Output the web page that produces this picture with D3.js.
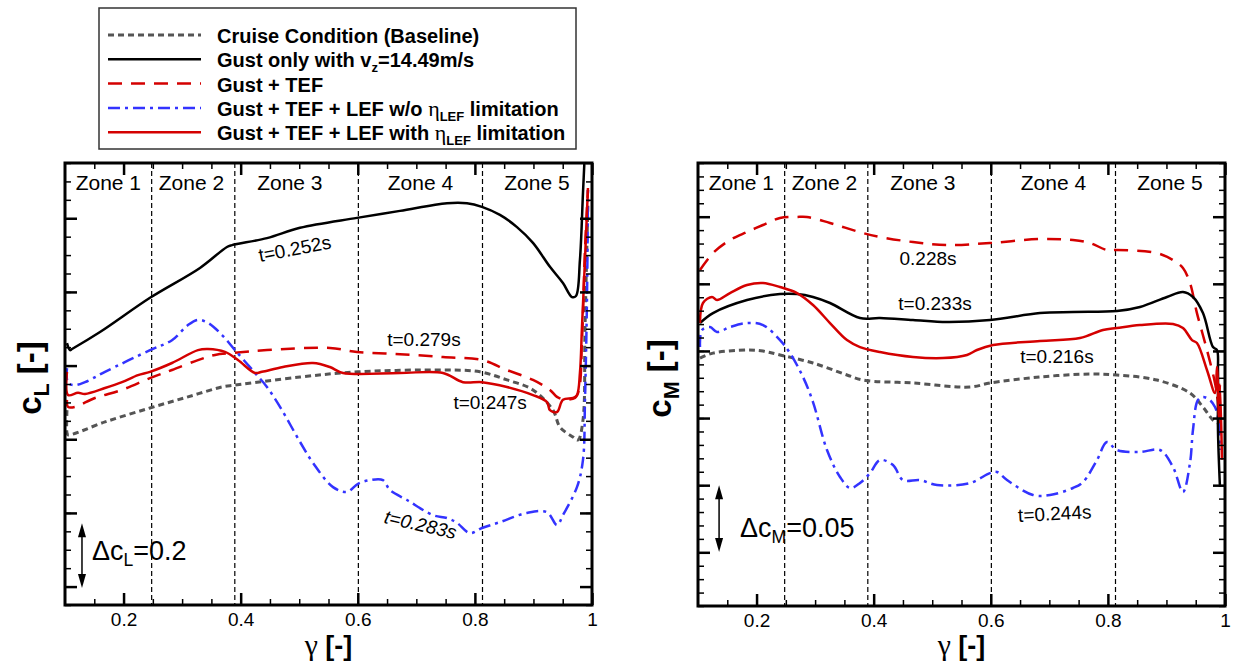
<!DOCTYPE html>
<html>
<head>
<meta charset="utf-8">
<script src="https://cdn.jsdelivr.net/npm/d3@7"></script>
<style>
  body { margin: 0; background: #fff; }
  svg { font-family: "Liberation Sans", Arial, Helvetica, sans-serif; }
</style>
</head>
<body>
<div id="chart"></div>
<script>
// zones along the span
const zoneEdges = [0.248, 0.39, 0.601, 0.813]
const zoneNames = ["Zone 1", "Zone 2", "Zone 3", "Zone 4", "Zone 5"]
const zoneLabelX = [0.174, 0.316, 0.484, 0.707, 0.906]
const xTicks = [0.2, 0.4, 0.6, 0.8, 1]

// lift coefficient, [gamma, cL]
const clCruise = [[0.1034,0.679],[0.1034,0.617],[0.1051,0.612],[0.1683,0.647],[0.2452,0.685],[0.3100,0.715],[0.3681,0.742],[0.3903,0.747],[0.5013,0.769],[0.6004,0.783],[0.7455,0.788],[0.8087,0.783],[0.8548,0.761],[0.8992,0.734],[0.9334,0.679],[0.9453,0.633],[0.9675,0.606],[0.9761,0.598],[0.9846,0.652],[0.9880,0.897],[0.9931,1.250]]
const clGust = [[0.1034,0.861],[0.1085,0.842],[0.1120,0.845],[0.1598,0.891],[0.2452,0.984],[0.3305,1.065],[0.3766,1.122],[0.3852,1.127],[0.4449,1.146],[0.5013,1.174],[0.5986,1.201],[0.6721,1.220],[0.7523,1.241],[0.7865,1.241],[0.8121,1.231],[0.8428,1.209],[0.8719,1.176],[0.8992,1.133],[0.9282,1.068],[0.9504,1.024],[0.9658,0.986],[0.9726,0.989],[0.9794,1.087],[0.9846,1.269],[0.9880,1.385]]
const clTef = [[0.1034,0.707],[0.1051,0.688],[0.1171,0.688],[0.1512,0.712],[0.1973,0.734],[0.2452,0.766],[0.2827,0.788],[0.3271,0.815],[0.3562,0.829],[0.3852,0.834],[0.4449,0.842],[0.5525,0.848],[0.5986,0.837],[0.6721,0.831],[0.7455,0.823],[0.8121,0.815],[0.8548,0.788],[0.8992,0.761],[0.9282,0.734],[0.9402,0.715],[0.9504,0.709],[0.9709,0.712],[0.9778,0.734],[0.9829,0.869],[0.9880,1.114],[0.9931,1.277]]
const clNoLim = [[0.1034,0.793],[0.1051,0.753],[0.1171,0.747],[0.1342,0.755],[0.1683,0.783],[0.2452,0.842],[0.2827,0.869],[0.3100,0.910],[0.3271,0.924],[0.3442,0.916],[0.3681,0.883],[0.3903,0.842],[0.4245,0.780],[0.4449,0.742],[0.4672,0.688],[0.5013,0.593],[0.5235,0.536],[0.5577,0.470],[0.5816,0.457],[0.6004,0.479],[0.6209,0.489],[0.6430,0.489],[0.6550,0.462],[0.6840,0.435],[0.7284,0.394],[0.7523,0.386],[0.7694,0.373],[0.7916,0.345],[0.8121,0.359],[0.8428,0.375],[0.8889,0.400],[0.9231,0.402],[0.9402,0.367],[0.9504,0.394],[0.9743,0.470],[0.9846,0.544],[0.9880,0.707],[0.9914,0.978],[0.9931,1.277]]
const clLim = [[0.1034,0.783],[0.1051,0.720],[0.1222,0.726],[0.1342,0.723],[0.1683,0.739],[0.1973,0.755],[0.2247,0.774],[0.2452,0.783],[0.2827,0.807],[0.3271,0.842],[0.3442,0.845],[0.3732,0.837],[0.3954,0.815],[0.4245,0.780],[0.4364,0.783],[0.4723,0.796],[0.5235,0.807],[0.5525,0.796],[0.5747,0.780],[0.6721,0.780],[0.7455,0.780],[0.7796,0.755],[0.8121,0.755],[0.8548,0.742],[0.8992,0.720],[0.9231,0.701],[0.9282,0.679],[0.9402,0.674],[0.9504,0.707],[0.9675,0.712],[0.9743,0.720],[0.9794,0.780],[0.9829,0.905],[0.9880,1.087],[0.9931,1.282]]

// moment coefficient, [gamma, cM]
const cmCruise = [[0.1034,-0.1053],[0.1256,-0.1016],[0.1837,-0.0993],[0.2110,-0.1001],[0.2400,-0.1030],[0.2964,-0.1090],[0.3544,-0.1179],[0.3818,-0.1217],[0.4672,-0.1239],[0.5645,-0.1269],[0.5987,-0.1239],[0.6840,-0.1194],[0.7694,-0.1172],[0.8155,-0.1179],[0.8838,-0.1217],[0.9402,-0.1314],[0.9624,-0.1418],[0.9795,-0.1515],[0.9880,-0.1537]]
const cmGust = [[0.1034,-0.0792],[0.1256,-0.0718],[0.1837,-0.0621],[0.2400,-0.0576],[0.2691,-0.0576],[0.2964,-0.0598],[0.3254,-0.0643],[0.3767,-0.0755],[0.4108,-0.0755],[0.4672,-0.0770],[0.5252,-0.0785],[0.5987,-0.0770],[0.6840,-0.0718],[0.7404,-0.0710],[0.8155,-0.0703],[0.8548,-0.0673],[0.9009,-0.0598],[0.9282,-0.0561],[0.9453,-0.0598],[0.9624,-0.0718],[0.9795,-0.0971],[0.9863,-0.0993],[0.9880,-0.1142],[0.9880,-0.1589],[0.9914,-0.2014]]
const cmTef = [[0.1034,-0.0397],[0.1256,-0.0271],[0.1546,-0.0174],[0.1837,-0.0114],[0.2110,-0.0062],[0.2400,-0.0010],[0.2691,-0.0002],[0.2861,-0.0002],[0.3254,-0.0047],[0.3818,-0.0122],[0.4108,-0.0151],[0.4672,-0.0189],[0.5252,-0.0211],[0.5987,-0.0196],[0.6840,-0.0166],[0.7404,-0.0174],[0.7694,-0.0196],[0.7984,-0.0248],[0.8155,-0.0248],[0.8838,-0.0271],[0.9112,-0.0323],[0.9282,-0.0382],[0.9402,-0.0494],[0.9521,-0.0718],[0.9692,-0.0993],[0.9829,-0.1239],[0.9880,-0.1388],[0.9914,-0.1641]]
const cmNoLim = [[0.1034,-0.0971],[0.1068,-0.0844],[0.1205,-0.0822],[0.1324,-0.0859],[0.1546,-0.0822],[0.1837,-0.0792],[0.2110,-0.0807],[0.2400,-0.0919],[0.2571,-0.1016],[0.2793,-0.1194],[0.2964,-0.1381],[0.3203,-0.1738],[0.3425,-0.1939],[0.3596,-0.2021],[0.3767,-0.1984],[0.3937,-0.1910],[0.4108,-0.1813],[0.4330,-0.1850],[0.4501,-0.1962],[0.4791,-0.1962],[0.5081,-0.1999],[0.5645,-0.1984],[0.5987,-0.1910],[0.6106,-0.1902],[0.6277,-0.1962],[0.6721,-0.2073],[0.7011,-0.2073],[0.7404,-0.2021],[0.7575,-0.1977],[0.7814,-0.1813],[0.7984,-0.1679],[0.8155,-0.1738],[0.8548,-0.1753],[0.8889,-0.1738],[0.9112,-0.1865],[0.9282,-0.2051],[0.9402,-0.1835],[0.9453,-0.1589],[0.9538,-0.1366],[0.9624,-0.1343],[0.9743,-0.1366],[0.9829,-0.1418],[0.9880,-0.1492],[0.9914,-0.1738]]
const cmLim = [[0.1034,-0.0792],[0.1085,-0.0643],[0.1239,-0.0598],[0.1324,-0.0621],[0.1546,-0.0569],[0.1837,-0.0509],[0.2110,-0.0494],[0.2400,-0.0524],[0.2691,-0.0569],[0.2964,-0.0658],[0.3254,-0.0792],[0.3544,-0.0919],[0.3767,-0.0971],[0.4108,-0.1008],[0.4672,-0.1045],[0.5184,-0.1053],[0.5594,-0.1030],[0.5764,-0.0993],[0.6038,-0.0956],[0.6840,-0.0926],[0.7523,-0.0904],[0.7916,-0.0844],[0.8155,-0.0829],[0.8548,-0.0807],[0.9112,-0.0799],[0.9282,-0.0829],[0.9436,-0.0919],[0.9521,-0.0941],[0.9692,-0.1142],[0.9829,-0.1314],[0.9863,-0.1120],[0.9897,-0.1500],[0.9914,-0.1250],[0.9948,-0.1810]]

// time labels: text, gamma, value, angle, italic
const clNotes = [["t=0.252s",0.4945,1.100,-11,false],["t=0.279s",0.713,0.853,0,false],["t=0.247s",0.826,0.682,0,false],["t=0.283s",0.7045,0.351,13,true]]
const cmNotes = [["0.228s",0.4928,-0.036,0,false],["t=0.233s",0.5047,-0.0695,0,false],["t=0.216s",0.713,-0.109,0,false],["t=0.244s",0.7097,-0.226,-3,false]]

const styles = {
  cruise: { color: "#555", dash: "6,4", width: 3 },
  gust:   { color: "#000", dash: null, width: 2.5 },
  tef:    { color: "#d40000", dash: "14,9", width: 2.5 },
  nolim:  { color: "#3333ff", dash: "12,5,3,5", width: 2.5 },
  lim:    { color: "#d40000", dash: null, width: 2.5 }
}

// part kinds: 0 plain, 1 subscript, 2 greek symbol
const legendItems = [
  ["cruise", [["Cruise Condition (Baseline)", 0]]],
  ["gust",   [["Gust only with v", 0], ["z", 1], ["=14.49m/s", 0]]],
  ["tef",    [["Gust + TEF", 0]]],
  ["nolim",  [["Gust + TEF + LEF w/o ", 0], ["\u03b7", 2], ["LEF", 1], [" limitation", 0]]],
  ["lim",    [["Gust + TEF + LEF with ", 0], ["\u03b7", 2], ["LEF", 1], [" limitation", 0]]]
]

const width = 1238, height = 667

const svg = d3.select("#chart").append("svg")
  .attr("width", width).attr("height", height)

// text with subscripts and symbol-font greek
function richText(sel, parts, shift) {
  parts.forEach((p, i) => {
    const t = sel.append("tspan").text(p[0])
    if (p[1] === 1) t.attr("font-size", "65%").attr("dy", shift)
    else if (i > 0 && parts[i-1][1] === 1) t.attr("dy", -shift)
    if (p[1] === 2) t.attr("font-family", "'Liberation Serif', 'DejaVu Serif', serif")
      .attr("font-weight", "normal").attr("font-size", "110%")
  })
}

function drawPanel(p) {
  const x = d3.scaleLinear().domain([0.1, 1]).range([p.left, p.right])
  const y = d3.scaleLinear().domain(p.yDomain).range([p.bottom, p.top])
  const g = svg.append("g")

  svg.append("clipPath").attr("id", "clip-" + p.id)
    .append("rect")
    .attr("x", p.left).attr("y", p.top)
    .attr("width", p.right - p.left).attr("height", p.bottom - p.top)

  // zone borders
  g.selectAll(".zone").data(zoneEdges).enter().append("line")
    .attr("x1", d => x(d)).attr("x2", d => x(d))
    .attr("y1", p.top).attr("y2", p.bottom)
    .attr("stroke", "#000").attr("stroke-width", 1.2)
    .attr("stroke-dasharray", "5,3")

  const line = d3.line()
    .x(d => x(d[0])).y(d => y(d[1]))
    .curve(d3.curveCatmullRom.alpha(0.5))

  const curves = g.append("g").attr("clip-path", "url(#clip-" + p.id + ")")
  p.series.forEach(s => {
    const st = styles[s[0]]
    curves.append("path").datum(s[1])
      .attr("d", line)
      .attr("fill", "none")
      .attr("stroke", st.color)
      .attr("stroke-width", st.width)
      .attr("stroke-dasharray", st.dash)
      .attr("stroke-linejoin", "round")
  })

  // axes, ticks pointing inward on all sides
  const xMinor = d3.range(0.15, 1.0, 0.05).filter(v => Math.abs(v * 5 - Math.round(v * 5)) > 1e-6)
  const yMinor = d3.range(p.yDomain[0], p.yDomain[1] + 1e-9, p.yMinorStep)

  const axes = [
    [d3.axisBottom(x), p.bottom, "x"], [d3.axisTop(x), p.top, "x"],
    [d3.axisLeft(y), p.left, "y"], [d3.axisRight(y), p.right, "y"]
  ]
  axes.forEach(([ax, pos, dir], i) => {
    const tr = dir === "x" ? "translate(0," + pos + ")" : "translate(" + pos + ",0)"
    const major = dir === "x" ? xTicks : p.yMajor
    const minor = dir === "x" ? xMinor : yMinor
    const gMinor = g.append("g").attr("transform", tr)
      .call(ax.tickValues(minor).tickSize(-6).tickFormat(""))
    gMinor.select(".domain").remove()
    gMinor.selectAll("line").attr("stroke-width", 1.5)
    const gMajor = g.append("g").attr("transform", tr)
      .call(ax.tickValues(major).tickSize(-12).tickPadding(8)
        .tickFormat(i === 0 ? (d => String(d)) : ""))
    gMajor.select(".domain").remove()
    gMajor.selectAll("line").attr("stroke-width", 2.5)
    gMajor.selectAll("text").attr("font-size", 19)
      .attr("font-family", "'Liberation Sans', Arial, sans-serif")
  })

  g.append("rect")
    .attr("x", p.left).attr("y", p.top)
    .attr("width", p.right - p.left).attr("height", p.bottom - p.top)
    .attr("fill", "none").attr("stroke", "#000").attr("stroke-width", 3)

  g.selectAll(".zlab").data(zoneNames).enter().append("text")
    .attr("x", (d, i) => x(zoneLabelX[i])).attr("y", p.top + 27)
    .attr("text-anchor", "middle").attr("font-size", 21)
    .text(d => d)

  p.notes.forEach(n => {
    g.append("text")
      .attr("transform", "translate(" + x(n[1]) + "," + y(n[2]) + ") rotate(" + n[3] + ")")
      .attr("text-anchor", "middle").attr("font-size", 19)
      .attr("font-style", n[4] ? "italic" : "normal")
      .text(n[0])
  })

  // delta marker
  const a = p.arrow
  g.append("line")
    .attr("x1", x(a[0])).attr("x2", x(a[0]))
    .attr("y1", y(a[1]) - 9).attr("y2", y(a[2]) + 9)
    .attr("stroke", "#000").attr("stroke-width", 1.5)
  ;[[a[1], 1], [a[2], -1]].forEach(([v, s]) => {
    const yy = y(v), xx = x(a[0])
    g.append("path")
      .attr("d", "M" + xx + "," + yy + "L" + (xx - 4) + "," + (yy - 14 * s) + "L" + (xx + 4) + "," + (yy - 14 * s) + "Z")
      .attr("fill", "#000")
  })
  const dt = g.append("text")
    .attr("x", x(a[3])).attr("y", y(a[4]))
    .attr("font-size", 27)
  richText(dt, p.deltaText, 6)

  // axis titles
  const xt = g.append("text")
    .attr("x", (p.left + p.right) / 2).attr("y", 655)
    .attr("text-anchor", "middle").attr("font-size", 27).attr("font-weight", "bold")
  richText(xt, [["\u03b3", 2], [" [-]", 0]], 0)
  const yt = g.append("text")
    .attr("transform", "translate(" + p.titleX + "," + ((p.top + p.bottom) / 2 - 6) + ") rotate(-90)")
    .attr("text-anchor", "middle").attr("font-size", 33).attr("font-weight", "bold")
  richText(yt, p.titleParts, 8)
}

drawPanel({
  id: "cl", left: 65, right: 592, top: 163, bottom: 605,
  yDomain: [0.15, 1.35], yMajor: [0.2, 0.4, 0.6, 0.8, 1.0, 1.2], yMinorStep: 0.05,
  series: [["cruise", clCruise], ["tef", clTef], ["nolim", clNoLim], ["gust", clGust], ["lim", clLim]],
  notes: clNotes,
  arrow: [0.129, 0.196, 0.372, 0.146, 0.272],
  deltaText: [["\u0394c", 0], ["L", 1], ["=0.2", 0]],
  titleX: 41, titleParts: [["c", 0], ["L", 1], [" [-]", 0]]
})

drawPanel({
  id: "cm", left: 698, right: 1225, top: 163, bottom: 606,
  yDomain: [-0.29, 0.04], yMajor: [-0.25, -0.2, -0.15, -0.1, -0.05, 0], yMinorStep: 0.01,
  series: [["cruise", cmCruise], ["tef", cmTef], ["nolim", cmNoLim], ["gust", cmGust], ["lim", cmLim]],
  notes: cmNotes,
  arrow: [0.136, -0.2498, -0.200, 0.1717, -0.2386],
  deltaText: [["\u0394c", 0], ["M", 1], ["=0.05", 0]],
  titleX: 671, titleParts: [["c", 0], ["M", 1], [" [-]", 0]]
})

// legend
const leg = svg.append("g")
leg.append("rect")
  .attr("x", 99).attr("y", 8).attr("width", 477).attr("height", 141)
  .attr("fill", "#fff").attr("stroke", "#333").attr("stroke-width", 1.5)
legendItems.forEach((item, i) => {
  const st = styles[item[0]]
  const base = 43 + i * 24.3
  leg.append("line")
    .attr("x1", 108).attr("x2", 201).attr("y1", base - 8).attr("y2", base - 8)
    .attr("stroke", st.color).attr("stroke-width", st.width)
    .attr("stroke-dasharray", st.dash)
  const t = leg.append("text")
    .attr("x", 217).attr("y", base)
    .attr("font-size", 20).attr("font-weight", "bold")
  richText(t, item[1], 5)
})
</script>
</body>
</html>
